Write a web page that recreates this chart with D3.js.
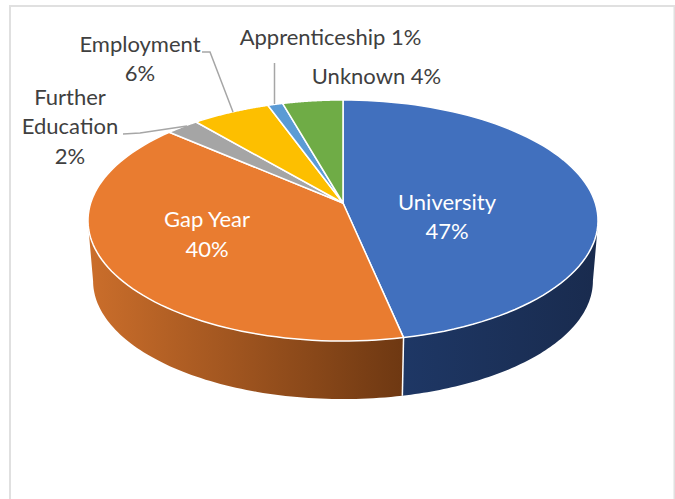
<!DOCTYPE html>
<html><head><meta charset="utf-8">
<script src="https://cdn.jsdelivr.net/npm/d3@7"></script>
<style>html,body{margin:0;padding:0;background:#fff}svg{display:block}text{font-family:Lato,"Open Sans",sans-serif}</style>
</head><body><svg id="c" width="675" height="499"></svg>
<script>
const categories = ["University","Gap Year","Further Education","Employment","Apprenticeship","Unknown"];
const values = [46.7,39.7,2.4,5.7,1.1,4.4];
const percentLabels = ["47%","40%","2%","6%","1%","4%"];
const colors = ["#4170be","#e97c30","#a5a5a5","#fdbf00","#5b9bd5","#6fac46"];
const wallStops = {0:["#1e3765","#192b4e"],1:["#cb6e2b","#6e3812"]};

const labelLines = [
 {i:0,fill:"#fff",lines:[["University",447,210],["47%",447,239]]},
 {i:1,fill:"#fff",lines:[["Gap Year",207,227],["40%",207,257]]},
 {i:2,fill:"#404040",lines:[["Further",70,105],["Education",70,134],["2%",70,164]]},
 {i:3,fill:"#404040",lines:[["Employment",140,52],["6%",140,81]]},
 {i:4,fill:"#404040",lines:[["Apprenticeship 1%",330.5,45]]},
 {i:5,fill:"#404040",lines:[["Unknown 4%",376.5,84]]}
];
const leaders = [
 [[123,134],[140,133],[187,126]],
 [[202,52],[210,52],[233,112]],
 [[274.5,63],[274.5,104]]
];

const svg = d3.select("#c");
const cx=343, cy=203, R=252.3, H=118, k=0.1453, depth=60.8, shrink=0.98;
const project=(a,level=0)=>{
  const u=Math.sin(a), v=Math.cos(a), w=1+k*v, s=level?shrink:1;
  return [cx+s*R*u/w, cy+level*depth-s*H*v/w];
};
const arcs=d3.pie().sort(null).value(d=>d)(values);
const line=d3.line();
const sample=(a0,a1,level,n=80)=>d3.range(n+1).map(i=>project(a0+(a1-a0)*i/n,level));

// frame
svg.append("path").attr("d","M10,499V6H674.5V499").attr("fill","none").attr("stroke","#e0e0e0").attr("stroke-width",2);

// gradients
const defs=svg.append("defs");
const wallA0=100*Math.PI/180, wallA1=2*Math.PI-wallA0, botA0=98.4*Math.PI/180, botA1=2*Math.PI-botA0;
const g0=defs.append("linearGradient").attr("id","w0").attr("gradientUnits","userSpaceOnUse")
  .attr("x1",project(arcs[0].endAngle,0)[0]).attr("x2",project(botA0,0)[0]).attr("y1",0).attr("y2",0);
const g1=defs.append("linearGradient").attr("id","w1").attr("gradientUnits","userSpaceOnUse")
  .attr("x1",project(botA1,0)[0]).attr("x2",project(arcs[1].startAngle,0)[0]).attr("y1",0).attr("y2",0);
[g0,g1].forEach((g,i)=>{
  g.append("stop").attr("offset",0).attr("stop-color",wallStops[i][0]);
  g.append("stop").attr("offset",1).attr("stop-color",wallStops[i][1]);
});

// walls
Object.keys(wallStops).forEach(i=>{
  const d=arcs[+i];
  const t0=Math.max(d.startAngle,wallA0), t1=Math.min(d.endAngle,wallA1);
  const b0=Math.max(d.startAngle,botA0), b1=Math.min(d.endAngle,botA1);
  const pts=sample(t0,t1,0).concat(sample(b1,b0,1));
  svg.append("path").attr("d",line(pts)+"Z").attr("fill",`url(#w${i})`);
});
// wall divider
svg.append("path").attr("d",line([project(arcs[0].endAngle,0),project(arcs[0].endAngle,1)]))
  .attr("stroke","#fff").attr("stroke-width",1.5).attr("fill","none");
// top slices
arcs.forEach((d,i)=>{
  const pts=[[cx,cy]].concat(sample(d.startAngle,d.endAngle,0));
  svg.append("path").attr("d",line(pts)+"Z").attr("fill",colors[i])
    .attr("stroke","#fff").attr("stroke-width",1.5).attr("stroke-linejoin","round");
});
// leaders
leaders.forEach(l=>svg.append("path").attr("d",line(l)).attr("fill","none").attr("stroke","#a6a6a6").attr("stroke-width",1.5));
// labels
labelLines.forEach(g=>g.lines.forEach(([t,x,y])=>{
  svg.append("text").attr("x",x).attr("y",y).attr("text-anchor","middle").attr("fill",g.fill)
    .attr("font-size",22).text(t);
}));
</script></body></html>
